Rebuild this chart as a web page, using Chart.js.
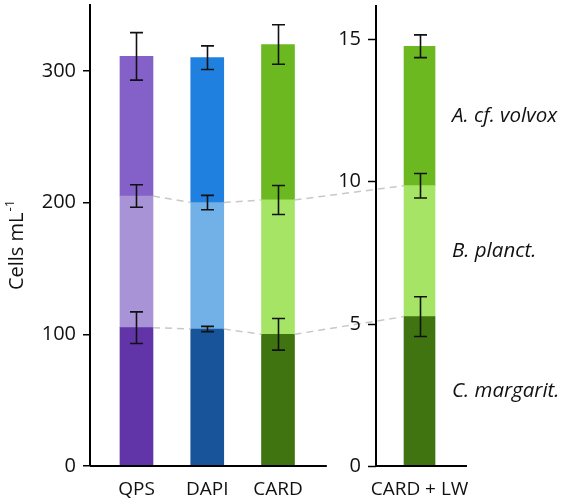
<!DOCTYPE html>
<html lang="en">
<head>
<meta charset="UTF-8">
<title>Cells mL-1 by method</title>
<script src="https://cdn.jsdelivr.net/npm/chart.js"></script>
<style>
  html, body { margin: 0; padding: 0; background: #fff; }
  #wrap { width: 567px; height: 504px; }
</style>
</head>
<body>
<div id="wrap"><canvas id="cellsChart"></canvas></div>
<script>
// ---- data ----
const methods = ['QPS', 'DAPI', 'CARD'];
const lwMethod = ['CARD + LW'];
const species = ['C. margarit.', 'B. planct.', 'A. cf. volvox'];

// left panel (cells per mL), stacked bottom -> top
const margarit = [105, 104, 100];
const planct = [100, 96, 102];
const volvox = [106, 110, 118];
const margaritErr = [12, 2, 12];
const planctErr = [8.5, 5.5, 11];
const volvoxErr = [18, 9, 15];

// right panel (CARD + LW)
const margaritLW = [5.25];
const planctLW = [4.6];
const volvoxLW = [4.9];
const margaritLWErr = [0.7];
const planctLWErr = [0.43];
const volvoxLWErr = [0.4];

const leftTicks = [0, 100, 200, 300];
const rightTicks = [0, 5, 10, 15];

// ---- look ----
const FONT = "'Open Sans', sans-serif";
const shades = {
    'QPS':  ['#6134a8', '#a893d6', '#8461c9'],
    'DAPI': ['#175499', '#72b0e8', '#2080e0'],
    'CARD': ['#3f7410', '#a6e466', '#6bb820']
};
// slots on the x scale; slot 3 stays empty for the second axis
const slotOf = {};
methods.forEach((m, i) => slotOf[m] = i);
slotOf[lwMethod[0]] = methods.length + 1;
const rightAxisAt = 3.385;
const leftBaseEnd = 2.69;

const leftVals = [margarit, planct, volvox];
const leftErrs = [margaritErr, planctErr, volvoxErr];
const lwVals = [margaritLW, planctLW, volvoxLW];
const lwErrs = [margaritLWErr, planctLWErr, volvoxLWErr];

let datasets = [];
species.forEach((sp, s) => {
    datasets.push({
        label: sp,
        data: methods.map((m, i) => ({ x: slotOf[m], y: leftVals[s][i] })),
        err: leftErrs[s],
        backgroundColor: methods.map(m => shades[m][s]),
        yAxisID: 'y',
        barThickness: 33
    });
});
species.forEach((sp, s) => {
    datasets.push({
        label: sp + ' (LW)',
        data: lwMethod.map((m, i) => ({ x: slotOf[m], y: lwVals[s][i] })),
        err: lwErrs[s],
        backgroundColor: shades['CARD'][s],
        yAxisID: 'y2',
        barThickness: 31
    });
});

const overlay = {
    id: 'overlay',
    afterDatasetsDraw(chart) {
        const ctx = chart.ctx;
        const n = species.length;

        // dashed connectors between segment tops
        ctx.save();
        ctx.strokeStyle = '#c8c8c8';
        ctx.lineWidth = 1.5;
        ctx.setLineDash([7, 5]);
        for (let s = 0; s < n - 1; s++) {
            let bars = chart.getDatasetMeta(s).data.concat(chart.getDatasetMeta(n + s).data);
            for (let k = 0; k < bars.length - 1; k++) {
                const a = bars[k], b = bars[k + 1];
                ctx.beginPath();
                ctx.moveTo(a.x + a.width / 2, a.y);
                ctx.lineTo(b.x - b.width / 2, b.y);
                ctx.stroke();
            }
        }
        ctx.restore();

        // error bars
        ctx.save();
        ctx.strokeStyle = '#111';
        ctx.lineWidth = 1.6;
        chart.data.datasets.forEach((ds, di) => {
            const yScale = chart.scales[ds.yAxisID];
            chart.getDatasetMeta(di).data.forEach((bar, i) => {
                const e = Math.abs(yScale.getPixelForValue(ds.err[i]) - yScale.getPixelForValue(0));
                const cx = Math.round(bar.x) + 0.5;
                ctx.beginPath();
                ctx.moveTo(cx, bar.y - e);
                ctx.lineTo(cx, bar.y + e);
                ctx.moveTo(cx - 6.5, bar.y - e);
                ctx.lineTo(cx + 6.5, bar.y - e);
                ctx.moveTo(cx - 6.5, bar.y + e);
                ctx.lineTo(cx + 6.5, bar.y + e);
                ctx.stroke();
            });
        });
        ctx.restore();
    },
    afterDraw(chart) {
        const ctx = chart.ctx;
        const area = chart.chartArea;
        const x = chart.scales.x;
        const y2 = chart.scales.y2;
        const ax = Math.round(x.getPixelForValue(rightAxisAt));

        ctx.save();
        ctx.strokeStyle = '#000';
        ctx.lineWidth = 2;
        // baselines, broken between the panels
        ctx.beginPath();
        ctx.moveTo(area.left, area.bottom);
        ctx.lineTo(x.getPixelForValue(leftBaseEnd), area.bottom);
        ctx.moveTo(ax, area.bottom);
        ctx.lineTo(area.right, area.bottom);
        // second y axis
        ctx.moveTo(ax, area.top);
        ctx.lineTo(ax, area.bottom + 1);
        ctx.stroke();

        ctx.lineWidth = 1.5;
        ctx.fillStyle = '#111';
        ctx.font = '20px ' + FONT;
        ctx.textAlign = 'right';
        ctx.textBaseline = 'middle';
        rightTicks.forEach(v => {
            const py = Math.round(y2.getPixelForValue(v)) + 0.5;
            ctx.beginPath();
            ctx.moveTo(ax - 8, py);
            ctx.lineTo(ax, py);
            ctx.stroke();
            ctx.fillText(String(v), ax - 15, py);
        });

        // species names beside the right bar
        ctx.font = 'italic 20.5px ' + FONT;
        ctx.textAlign = 'left';
        species.forEach((sp, s) => {
            const bar = chart.getDatasetMeta(species.length + s).data[0];
            ctx.fillText(sp, area.right - 15, (bar.y + bar.base) / 2);
        });

        // y title with superscript
        const main = 'Cells mL';
        const sup = '-1';
        ctx.font = '20px ' + FONT;
        const w1 = ctx.measureText(main).width;
        ctx.font = '13px ' + FONT;
        const w2 = ctx.measureText(sup).width;
        const cy = (area.top + area.bottom) / 2 + 10;
        ctx.translate(23, cy + (w1 + w2) / 2);
        ctx.rotate(-Math.PI / 2);
        ctx.textBaseline = 'alphabetic';
        ctx.font = '20px ' + FONT;
        ctx.fillText(main, 0, 0);
        ctx.font = '13px ' + FONT;
        ctx.fillText(sup, w1 + 1, -9);
        ctx.restore();
    }
};

new Chart(document.getElementById('cellsChart'), {
    type: 'bar',
    data: { datasets: datasets },
    options: {
        responsive: true,
        maintainAspectRatio: false,
        animation: false,
        layout: { padding: { left: 0, top: 5, right: 100, bottom: 0 } },
        datasets: { bar: { grouped: false, borderWidth: 0 } },
        plugins: {
            legend: { display: false },
            tooltip: { enabled: false }
        },
        scales: {
            x: {
                type: 'linear',
                offset: false,
                min: -0.657,
                max: 4.671,
                grid: { display: false, drawTicks: false },
                border: { display: false },
                afterBuildTicks: s => { s.ticks = Object.values(slotOf).map(v => ({ value: v })); },
                afterFit: s => { s.height = 38; s.paddingLeft = 0; s.paddingRight = 0; },
                ticks: {
                    autoSkip: false,
                    maxRotation: 0,
                    padding: 12,
                    color: '#111',
                    font: { family: FONT, size: 19 },
                    callback: v => Object.keys(slotOf).find(k => slotOf[k] === v)
                }
            },
            y: {
                stacked: true,
                min: 0,
                max: 350,
                afterBuildTicks: s => { s.ticks = leftTicks.map(v => ({ value: v })); },
                afterFit: s => { s.width = 90; s.paddingTop = 0; s.paddingBottom = 0; },
                grid: { drawOnChartArea: false, tickLength: 7, color: '#000', lineWidth: 1.5 },
                border: { color: '#000', width: 2 },
                ticks: {
                    padding: 7,
                    color: '#111',
                    font: { family: FONT, size: 20 }
                }
            },
            y2: {
                stacked: true,
                display: false,
                min: 0,
                max: 16.2
            }
        }
    },
    plugins: [overlay]
});
</script>
</body>
</html>
